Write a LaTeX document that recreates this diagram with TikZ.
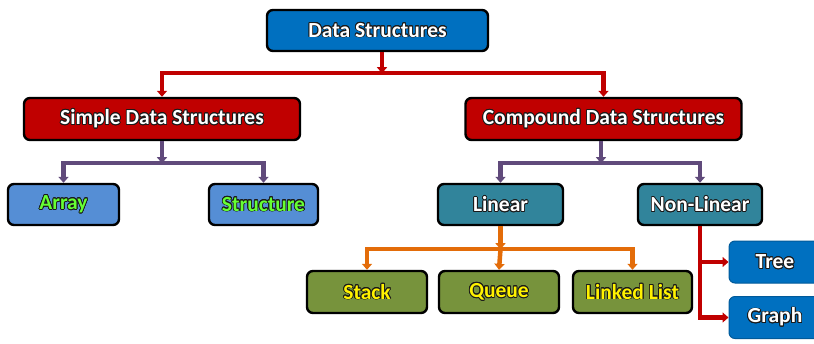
\documentclass[tikz,border=0pt]{standalone}
\usepackage{fontspec}
\setmainfont{Carlito}
\usepackage[copies]{contour}
\contourlength{0.8pt}
\usetikzlibrary{arrows.meta}
\definecolor{dsblue}{HTML}{0070C0}
\definecolor{dsred}{HTML}{C00000}
\definecolor{lblue}{HTML}{558ED5}
\definecolor{teal}{HTML}{31849B}
\definecolor{olive}{HTML}{77933C}
\definecolor{purp}{HTML}{604A7B}
\definecolor{orng}{HTML}{E36C09}
\definecolor{lgreen}{HTML}{66FF33}
\definecolor{glow}{HTML}{1A1A1A}
\tikzset{
  box/.style={draw=black, line width=2.4pt, rounded corners=6pt, minimum height=41pt,
    inner sep=0pt, font=\fontsize{21.5}{24}\selectfont\bfseries},
  link/.style={line width=4.5pt, -{Triangle[width=10pt,length=6pt]}},
  plain/.style={line width=4.5pt},
}
\newcommand{\gl}[1]{\contour{glow}{#1}}
\begin{document}
\begin{tikzpicture}[x=1pt,y=-1pt]
\useasboundingbox (0,0) rectangle (814,343);
\clip (0,0) rectangle (814,343);
% top level
\node[box, fill=dsblue, minimum width=221pt, text=white] (ds) at (377.5,30.5) {\gl{Data Structures}};
% second level
\node[box, fill=dsred, minimum width=276pt, minimum height=42pt, text=white] (simple) at (162,119) {\gl{Simple Data Structures}};
\node[box, fill=dsred, minimum width=276pt, minimum height=42pt, text=white] (compound) at (603.5,119) {\gl{Compound Data Structures}};
% third level
\node[box, fill=lblue, minimum width=111pt, text=lgreen] (array) at (63.5,204.5) {\gl{Array}};
\node[box, fill=lblue, minimum width=109pt, text=lgreen] (struct) at (263.5,204.5) {\gl{Structure}};
\node[box, fill=teal, minimum width=125pt, text=white] (linear) at (500.5,204.5) {\gl{Linear}};
\node[box, fill=teal, minimum width=124pt, text=white] (nonlinear) at (700,204.5) {\gl{Non-Linear}};
% linear kinds
\node[box, fill=olive, minimum width=120pt, minimum height=42pt, text=yellow] (stack) at (367,292) {\gl{Stack}};
\node[box, fill=olive, minimum width=120pt, minimum height=42pt, text=yellow] (queue) at (499,292) {\gl{Queue}};
\node[box, fill=olive, minimum width=119pt, minimum height=42pt, text=yellow] (llist) at (632.5,292) {\gl{Linked List}};
% non-linear kinds
\node[box, draw=dsblue!80!black, line width=1pt, fill=dsblue, minimum width=92pt, minimum height=42pt, text=white] (tree) at (775,262) {\gl{Tree}};
\node[box, draw=dsblue!80!black, line width=1pt, fill=dsblue, minimum width=92pt, minimum height=42pt, text=white] (graph) at (775,317.5) {\gl{Graph}};
% red bus
\draw[link, draw=dsred] ([xshift=4.5pt]ds.south) -- ++(0,21) coordinate (rbus);
\draw[link, draw=dsred] (rbus) -| (simple.north);
\draw[link, draw=dsred] (rbus) -| (compound.north);
% purple buses
\draw[link, draw=purp] (simple.south) -- ++(0,22) coordinate (pbus1);
\draw[link, draw=purp] (pbus1) -| (array.north);
\draw[link, draw=purp] (pbus1) -| (struct.north);
\draw[link, draw=purp] ([xshift=-2.5pt]compound.south) -- ++(0,22) coordinate (pbus2);
\draw[link, draw=purp] (pbus2) -| (linear.north);
\draw[link, draw=purp] (pbus2) -| (nonlinear.north);
% orange bus
\draw[link, draw=orng] (linear.south) -- ++(0,23) coordinate (obus);
\draw[link, draw=orng] (obus) -| (stack.north);
\draw[link, draw=orng] (obus) -- (queue.north);
\draw[link, draw=orng] (obus) -| (llist.north);
% non-linear branch
\draw[plain, draw=dsred] (nonlinear.south) -- (nonlinear.south |- graph.west) coordinate (nbot);
\draw[link, draw=dsred] (nonlinear.south |- tree.west) -- (tree.west);
\draw[link, draw=dsred] ([xshift=-2.25pt]nbot) -- (graph.west);
\end{tikzpicture}
\end{document}
